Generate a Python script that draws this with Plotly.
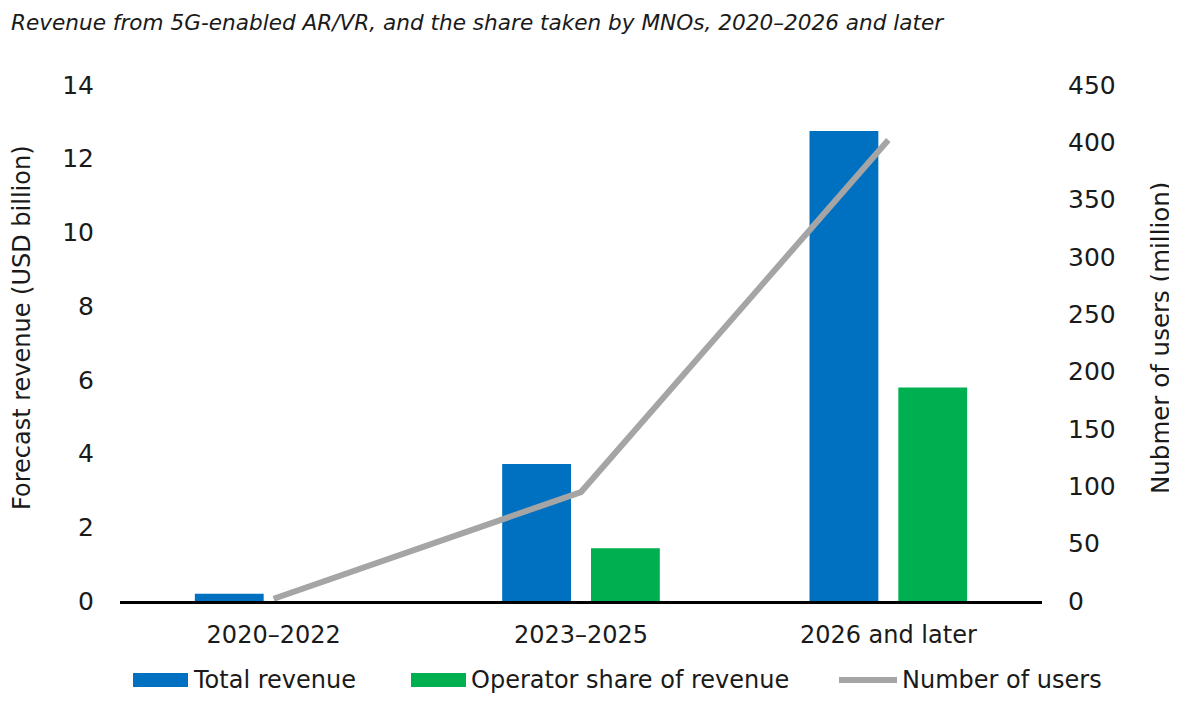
import plotly.graph_objects as go

categories = ["2020–2022", "2023–2025", "2026 and later"]
total_revenue = [0.2, 3.72, 12.75]
operator_share = [0.0, 1.43, 5.79]
users = [2, 95, 402]

series_names = ["Total revenue", "Operator share of revenue", "Number of users"]
title_text = "Revenue from 5G-enabled AR/VR, and the share taken by MNOs, 2020–2026 and later"
left_title = "Forecast revenue (USD billion)"
right_title = "Nubmer of users (million)"

BLUE = "#0070C0"
GREEN = "#00B050"
GREY = "#A5A5A5"
FONT = "DejaVu Sans, Verdana, sans-serif"
TXT = "#1a1a1a"

fig = go.Figure()
fig.add_trace(go.Bar(x=categories, y=total_revenue, name=series_names[0],
                     marker=dict(color=BLUE, line=dict(width=0)), yaxis="y"))
fig.add_trace(go.Bar(x=categories, y=operator_share, name=series_names[1],
                     marker=dict(color=GREEN, line=dict(width=0)), yaxis="y"))
fig.add_trace(go.Scatter(x=categories, y=users, name=series_names[2], mode="lines",
                         line=dict(color=GREY, width=6), yaxis="y2"))

# page is offset by the 8px body margin; figure sized to fit the window
W, H = 1169, 706
L, R, T, B = 112, 135, 77, 113


def px_x(page_x):
    return (page_x - 8 - L) / (W - L - R)


def px_y(page_y):
    return (H - B - (page_y - 8)) / (H - T - B)


shapes = [
    dict(type="rect", xref="paper", yref="paper", x0=px_x(133), x1=px_x(188),
         y0=px_y(687), y1=px_y(673), fillcolor=BLUE, line=dict(width=0)),
    dict(type="rect", xref="paper", yref="paper", x0=px_x(411), x1=px_x(466),
         y0=px_y(687), y1=px_y(673), fillcolor=GREEN, line=dict(width=0)),
    dict(type="line", xref="paper", yref="paper", x0=px_x(839), x1=px_x(897),
         y0=px_y(680), y1=px_y(680), line=dict(color=GREY, width=6)),
]

legend_font = dict(family=FONT, size=24, color=TXT)
annotations = [
    dict(text=title_text, xref="paper", yref="paper", x=px_x(9), y=px_y(22),
         xanchor="left", yanchor="middle", showarrow=False,
         font=dict(family=FONT, size=21.6, color=TXT, style="italic")),
    dict(text=left_title, xref="paper", yref="paper", x=px_x(22), y=px_y(328),
         xanchor="center", yanchor="middle", showarrow=False, textangle=-90,
         font=dict(family=FONT, size=24, color=TXT)),
    dict(text=right_title, xref="paper", yref="paper", x=px_x(1160), y=px_y(338),
         xanchor="center", yanchor="middle", showarrow=False, textangle=-90,
         font=dict(family=FONT, size=24.5, color=TXT)),
    dict(text=series_names[0], xref="paper", yref="paper", x=px_x(191), y=px_y(680),
         xanchor="left", yanchor="middle", showarrow=False, font=legend_font),
    dict(text=series_names[1], xref="paper", yref="paper", x=px_x(469), y=px_y(680),
         xanchor="left", yanchor="middle", showarrow=False, font=legend_font),
    dict(text=series_names[2], xref="paper", yref="paper", x=px_x(900), y=px_y(680),
         xanchor="left", yanchor="middle", showarrow=False, font=legend_font),
]

fig.update_layout(
    width=W, height=H,
    paper_bgcolor="white", plot_bgcolor="white",
    margin=dict(l=L, r=R, t=T, b=B, autoexpand=False),
    font=dict(family=FONT, color=TXT, size=22),
    barmode="group", bargap=0.422, bargroupgap=0.225,
    showlegend=False,
    shapes=shapes,
    annotations=annotations,
    xaxis=dict(showline=True, linecolor="black", linewidth=3, showgrid=False,
               ticks="outside", ticklen=10, tickcolor="rgba(0,0,0,0)",
               tickfont=dict(size=24, color=TXT), zeroline=False),
    yaxis=dict(range=[0, 14], dtick=2, showgrid=False, zeroline=False, showline=False,
               tickfont=dict(size=25, color=TXT),
               ticks="outside", ticklen=20, tickcolor="rgba(0,0,0,0)"),
    yaxis2=dict(range=[0, 450], dtick=50, overlaying="y", side="right", showgrid=False,
                zeroline=False, showline=False, tickfont=dict(size=25, color=TXT),
                ticks="outside", ticklen=20, tickcolor="rgba(0,0,0,0)"),
)

fig.write_html("out.html")
